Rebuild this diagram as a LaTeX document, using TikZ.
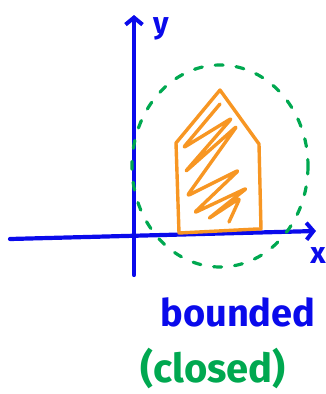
\documentclass[tikz,border=0pt]{standalone}
\usepackage{fontspec}
\setmainfont{Fira Sans}
\usepackage{tikz}
\usetikzlibrary{arrows.meta}
\definecolor{penblue}{RGB}{10,10,235}
\definecolor{pengreen}{RGB}{0,168,80}
\definecolor{penorange}{RGB}{247,150,35}
\begin{document}
\begin{tikzpicture}[
  x=1pt, y=-1pt,
  axis/.style={draw=penblue, line width=4.2pt, line cap=round, line join=round,
    -{Straight Barb[length=7pt, width=17pt, line width=4pt]}},
  bound/.style={draw=pengreen, line width=3.2pt, line cap=round, dash pattern=on 8pt off 13pt},
  house/.style={draw=penorange, line width=3.4pt, line join=round, line cap=round},
  lab/.style={font=\fontsize{30}{32}\selectfont\bfseries, inner sep=0pt}
]
\useasboundingbox (0,0) rectangle (326,394);
% axes
\coordinate (xs) at (10,239);
\coordinate (xe) at (316,231);
\coordinate (ys) at (134,275);
\coordinate (ye) at (134,15);
\draw[axis] (xs) -- (xe);
\draw[axis] (ys) -- (ye);
\node[lab, text=penblue] (xlab) at (318,256) {x};
\node[lab, text=penblue] (ylab) at (161,29) {y};
% bounding circle
\draw[bound] (220,166) ellipse [x radius=88, y radius=101];
% set
\draw[house] (179,233) -- (176,143) -- (220,90) -- (259,144) -- (261,229) -- (257,229) -- cycle;
\draw[house, rounded corners=3pt]
  (220,104) -- (183,148) -- (232,118) -- (185,172) -- (237,126) -- (187,196)
  -- (239,170) -- (194,213) -- (247,188) -- (208,219) -- (240,198) -- (229,222);
% labels
\node[lab, text=penblue, font=\fontsize{38}{40}\selectfont\bfseries] (bnd) at (238,312) {bounded};
\node[lab, text=pengreen, font=\fontsize{40}{42}\selectfont\bfseries] (cls) at (213,368) {(closed)};
\end{tikzpicture}
\end{document}
